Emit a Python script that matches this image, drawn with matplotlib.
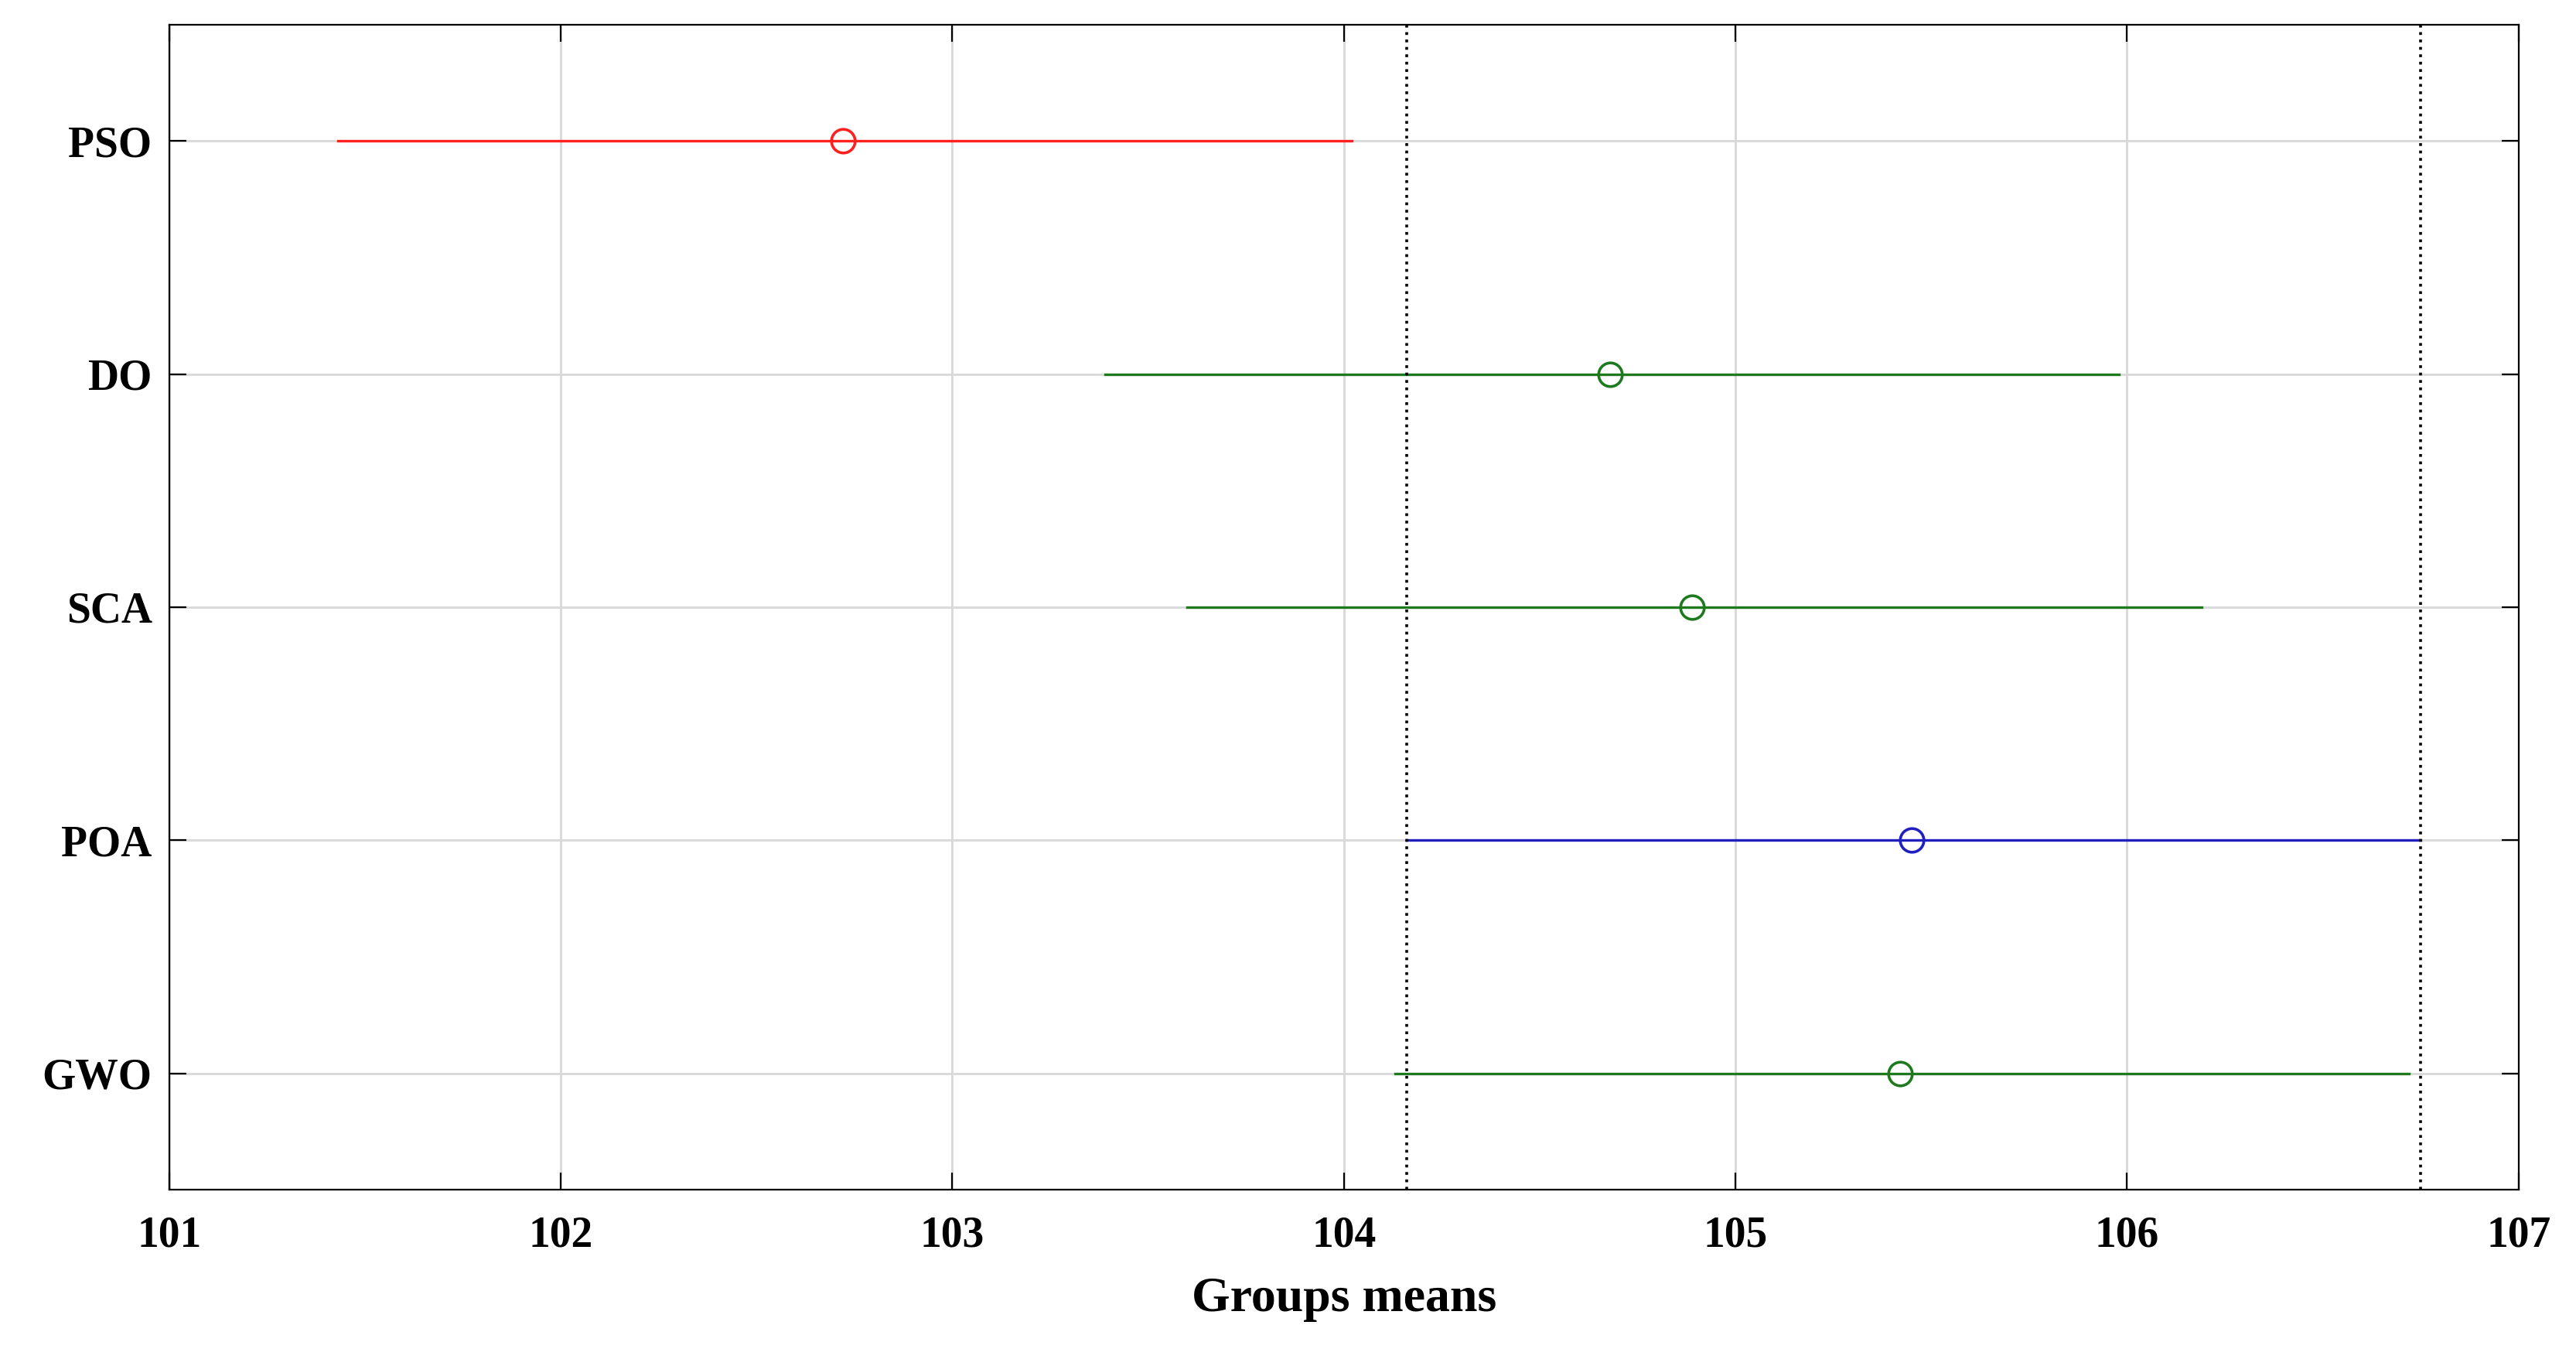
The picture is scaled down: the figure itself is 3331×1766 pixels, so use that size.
import matplotlib
matplotlib.use("Agg")
import matplotlib.pyplot as plt

groups = ["GWO", "POA", "SCA", "DO", "PSO"]
means = [105.42, 105.45, 104.89, 104.68, 102.72]
lows = [104.13, 104.16, 103.60, 103.39, 101.43]
highs = [106.72, 106.75, 106.19, 105.98, 104.02]
colors = ["#1f7a1f", "#2020c0", "#1f7a1f", "#1f7a1f", "#ff2020"]
ref_lines = [104.16, 106.75]

plt.rcParams['font.family'] = ['Liberation Serif', 'DejaVu Serif']
fig = plt.figure(figsize=(16.655, 8.83), dpi=200)
ax = fig.add_axes([0.0657, 0.129, 0.912, 0.853])
ys = list(range(1, len(groups) + 1))
for y, m, lo, hi, c in zip(ys, means, lows, highs, colors):
    ax.plot([lo, hi], [y, y], color=c, lw=1.2)
    ax.plot(m, y, 'o', mfc='none', mec=c, ms=11, mew=1.3)
for x in ref_lines:
    ax.axvline(x, color='black', ls=':', lw=1.3)
ax.set_xlim(101, 107)
ax.set_ylim(0.5, 5.5)
ax.set_yticks(ys)
ax.set_yticklabels(groups)
ax.grid(True, color='#d8d8d8', lw=1)
ax.set_axisbelow(True)
ax.tick_params(direction='in', top=True, right=True, length=8, labelsize=20)
ax.tick_params(axis='x', pad=12)
ax.tick_params(axis='y', pad=8)
for lab in ax.get_xticklabels() + ax.get_yticklabels():
    lab.set_fontweight('bold')
ax.set_xlabel("Groups means", fontsize=23, fontweight='bold', labelpad=10)
fig.savefig("out.png", dpi=200)
